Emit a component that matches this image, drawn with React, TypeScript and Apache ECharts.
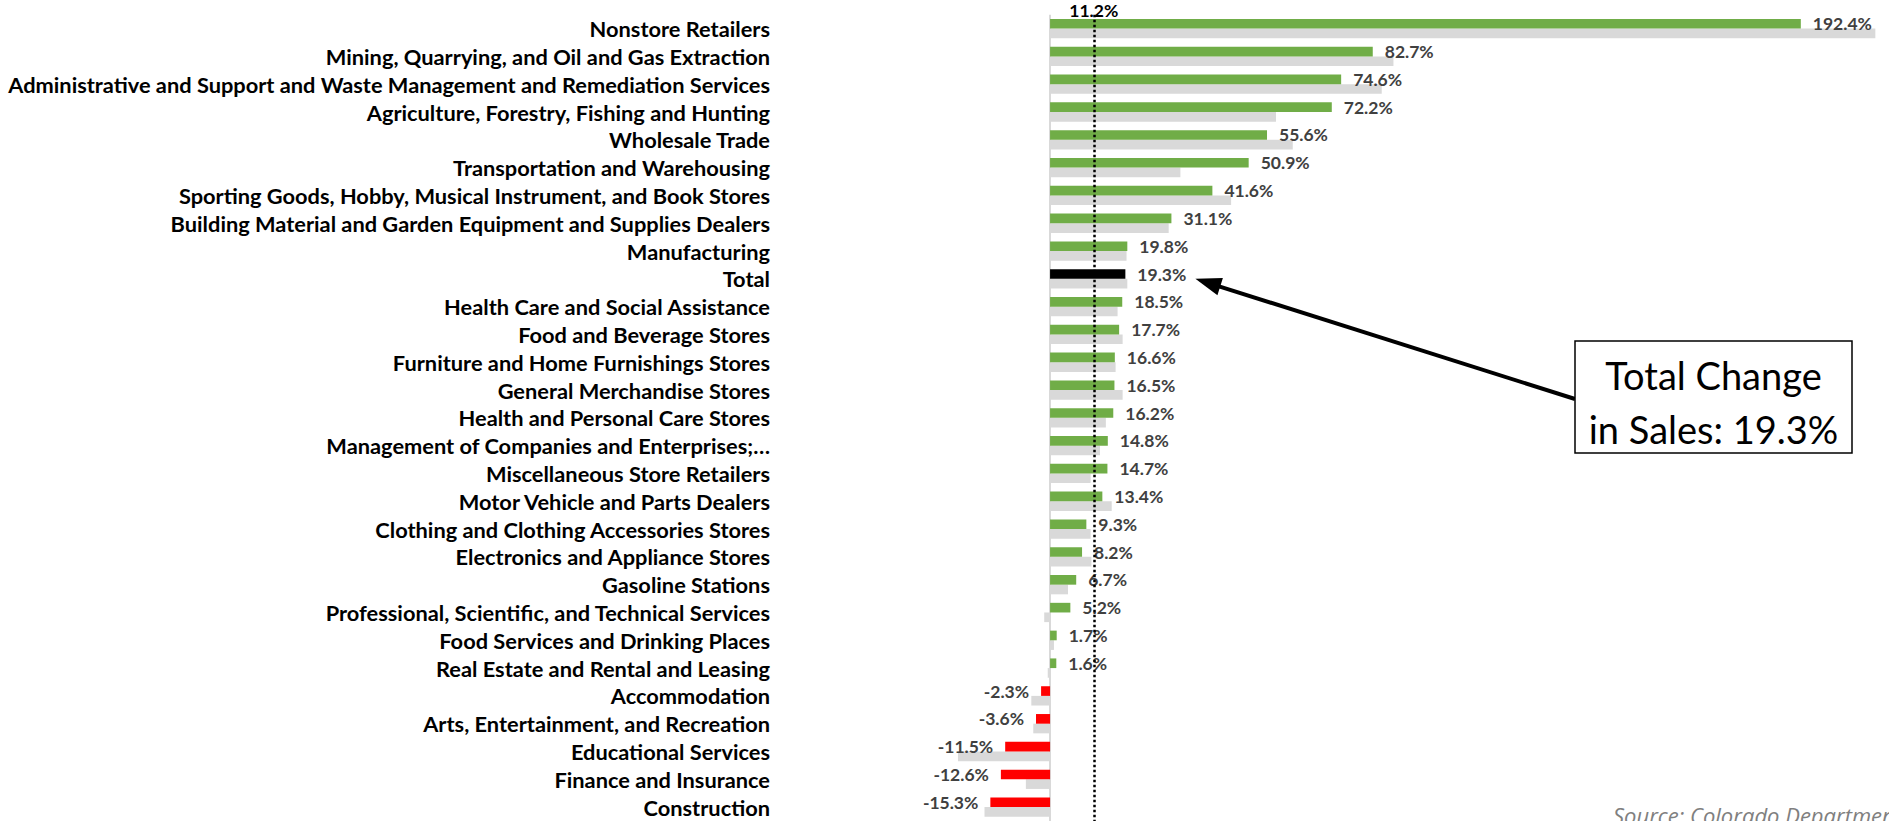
import React, { useEffect, useRef } from "react";
import * as echarts from "echarts";

const categories: string[] = [
  "Nonstore Retailers",
  "Mining, Quarrying, and Oil and Gas Extraction",
  "Administrative and Support and Waste Management and Remediation Services",
  "Agriculture, Forestry, Fishing and Hunting",
  "Wholesale Trade",
  "Transportation and Warehousing",
  "Sporting Goods, Hobby, Musical Instrument, and Book Stores",
  "Building Material and Garden Equipment and Supplies Dealers",
  "Manufacturing",
  "Total",
  "Health Care and Social Assistance",
  "Food and Beverage Stores",
  "Furniture and Home Furnishings Stores",
  "General Merchandise Stores",
  "Health and Personal Care Stores",
  "Management of Companies and Enterprises;\u2026",
  "Miscellaneous Store Retailers",
  "Motor Vehicle and Parts Dealers",
  "Clothing and Clothing Accessories Stores",
  "Electronics and Appliance Stores",
  "Gasoline Stations",
  "Professional, Scientific, and Technical Services",
  "Food Services and Drinking Places",
  "Real Estate and Rental and Leasing",
  "Accommodation",
  "Arts, Entertainment, and Recreation",
  "Educational Services",
  "Finance and Insurance",
  "Construction",
];

const currentChange: number[] = [
  192.4, 82.7, 74.6, 72.2, 55.6, 50.9, 41.6, 31.1, 19.8, 19.3, 18.5, 17.7, 16.6,
  16.5, 16.2, 14.8, 14.7, 13.4, 9.3, 8.2, 6.7, 5.2, 1.7, 1.6, -2.3, -3.6, -11.5,
  -12.6, -15.3,
];

const priorChange: number[] = [
  211.5, 88.0, 85.0, 57.9, 62.2, 33.4, 46.4, 30.4, 19.6, 19.8, 17.3, 18.6, 16.8,
  18.6, 14.3, 12.8, 10.4, 15.8, 10.4, 10.6, 4.6, -1.5, 1.0, -0.6, -4.8, -4.3,
  -23.6, -6.2, -16.8,
];

const referenceValue = 11.2;
const referenceLabel = "11.2%";
const totalCategory = "Total";
const calloutLines = ["Total Change", "in Sales: 19.3%"];
const sourceText = "Source: Colorado Department of Revenue";
const xMin = -30;
const xMax = 215;

const GREEN = "#70AD47";
const RED = "#FF0000";
const GREY = "#D9D9D9";

export default function App() {
  const ref = useRef<HTMLDivElement>(null);

  useEffect(() => {
    if (!ref.current) return;
    const chart = echarts.init(ref.current, null, { renderer: "svg" });

    const currentData = currentChange.map((v, i) => ({
      value: v,
      itemStyle: {
        color: categories[i] === totalCategory ? "#000000" : v < 0 ? RED : GREEN,
      },
      label: { position: v < 0 ? "left" : "right" },
    }));

    chart.setOption({
      animation: false,
      grid: { left: 933, top: 14.7, width: 958, height: 810 },
      xAxis: {
        type: "value",
        min: xMin,
        max: xMax,
        show: false,
      },
      yAxis: {
        type: "category",
        data: categories,
        inverse: true,
        axisLine: { show: false },
        axisTick: { show: false },
        splitLine: { show: false },
        axisLabel: {
          interval: 0,
          hideOverlap: false,
          margin: 163,
          fontFamily: "Lato",
          fontWeight: "bold",
          fontSize: 21.8,
          color: "#000000",
        },
      },
      series: [
        {
          type: "bar",
          name: "Current",
          data: currentData,
          barWidth: 9.65,
          barGap: "0%",
          z: 3,
          label: {
            show: true,
            distance: 12,
            formatter: (p: any) => p.value.toFixed(1) + "%",
            fontFamily: "Lato",
            fontWeight: "bold",
            fontSize: 17.5,
            color: "#404040",
          },
          markLine: {
            silent: true,
            symbol: "none",
            label: { show: false },
            lineStyle: { color: "#000000", width: 2.5, type: [2.5, 2.5] },
            data: [{ xAxis: referenceValue }],
            z: 10,
          },
        },
        {
          type: "bar",
          name: "Prior",
          data: priorChange,
          barWidth: 9.65,
          barGap: "0%",
          itemStyle: { color: GREY },
          z: 2,
          markLine: {
            silent: true,
            symbol: "none",
            label: { show: false },
            lineStyle: { color: GREY, width: 2, type: "solid" },
            data: [{ xAxis: 0 }],
            z: 1,
          },
        },
      ],
    });

    const refX = chart.convertToPixel({ xAxisIndex: 0 }, referenceValue) as number;
    const totalIdx = categories.indexOf(totalCategory);
    const totalPt = chart.convertToPixel(
      { xAxisIndex: 0, yAxisIndex: 0 },
      [currentChange[totalIdx], totalCategory]
    ) as number[];

    const tipX = totalPt[0] + 70;
    const tipY = totalPt[1];
    const startX = 1575;
    const startY = 399;
    const dx = startX - tipX;
    const dy = startY - tipY;
    const len = Math.sqrt(dx * dx + dy * dy);
    const ux = dx / len;
    const uy = dy / len;
    const headLen = 26;
    const headHalf = 9;
    const bx = tipX + ux * headLen;
    const by = tipY + uy * headLen;

    chart.setOption({
      graphic: [
        {
          type: "text",
          x: refX,
          y: 10,
          style: {
            text: referenceLabel,
            fontFamily: "Lato",
            fontWeight: "bold",
            fontSize: 17.5,
            fill: "#000000",
            align: "center",
            verticalAlign: "middle",
          },
          z: 20,
        },
        {
          type: "line",
          shape: { x1: startX, y1: startY, x2: bx - ux * 2, y2: by - uy * 2 },
          style: { stroke: "#000000", lineWidth: 4 },
          z: 20,
        },
        {
          type: "polygon",
          shape: {
            points: [
              [tipX, tipY],
              [bx - uy * headHalf, by + ux * headHalf],
              [bx + uy * headHalf, by - ux * headHalf],
            ],
          },
          style: { fill: "#000000" },
          z: 20,
        },
        {
          type: "rect",
          shape: { x: 1575, y: 341, width: 277, height: 112 },
          style: { fill: "#ffffff", stroke: "#000000", lineWidth: 1.5 },
          z: 20,
        },
        {
          type: "text",
          x: 1713.5,
          y: 375,
          style: {
            text: calloutLines[0],
            fontFamily: "Lato",
            fontSize: 38,
            fill: "#000000",
            align: "center",
            verticalAlign: "middle",
          },
          z: 21,
        },
        {
          type: "text",
          x: 1713.5,
          y: 429,
          style: {
            text: calloutLines[1],
            fontFamily: "Lato",
            fontSize: 38,
            fill: "#000000",
            align: "center",
            verticalAlign: "middle",
          },
          z: 21,
        },
        {
          type: "text",
          x: 1613,
          y: 804,
          style: {
            text: sourceText,
            fontFamily: "Open Sans",
            fontStyle: "italic",
            fontSize: 22,
            fill: "#808080",
            align: "left",
            verticalAlign: "top",
          },
          z: 20,
        },
      ],
    });

    return () => chart.dispose();
  }, []);

  return (
    <div
      ref={ref}
      style={{ position: "absolute", left: 0, top: 0, width: 1889, height: 821 }}
    />
  );
}
